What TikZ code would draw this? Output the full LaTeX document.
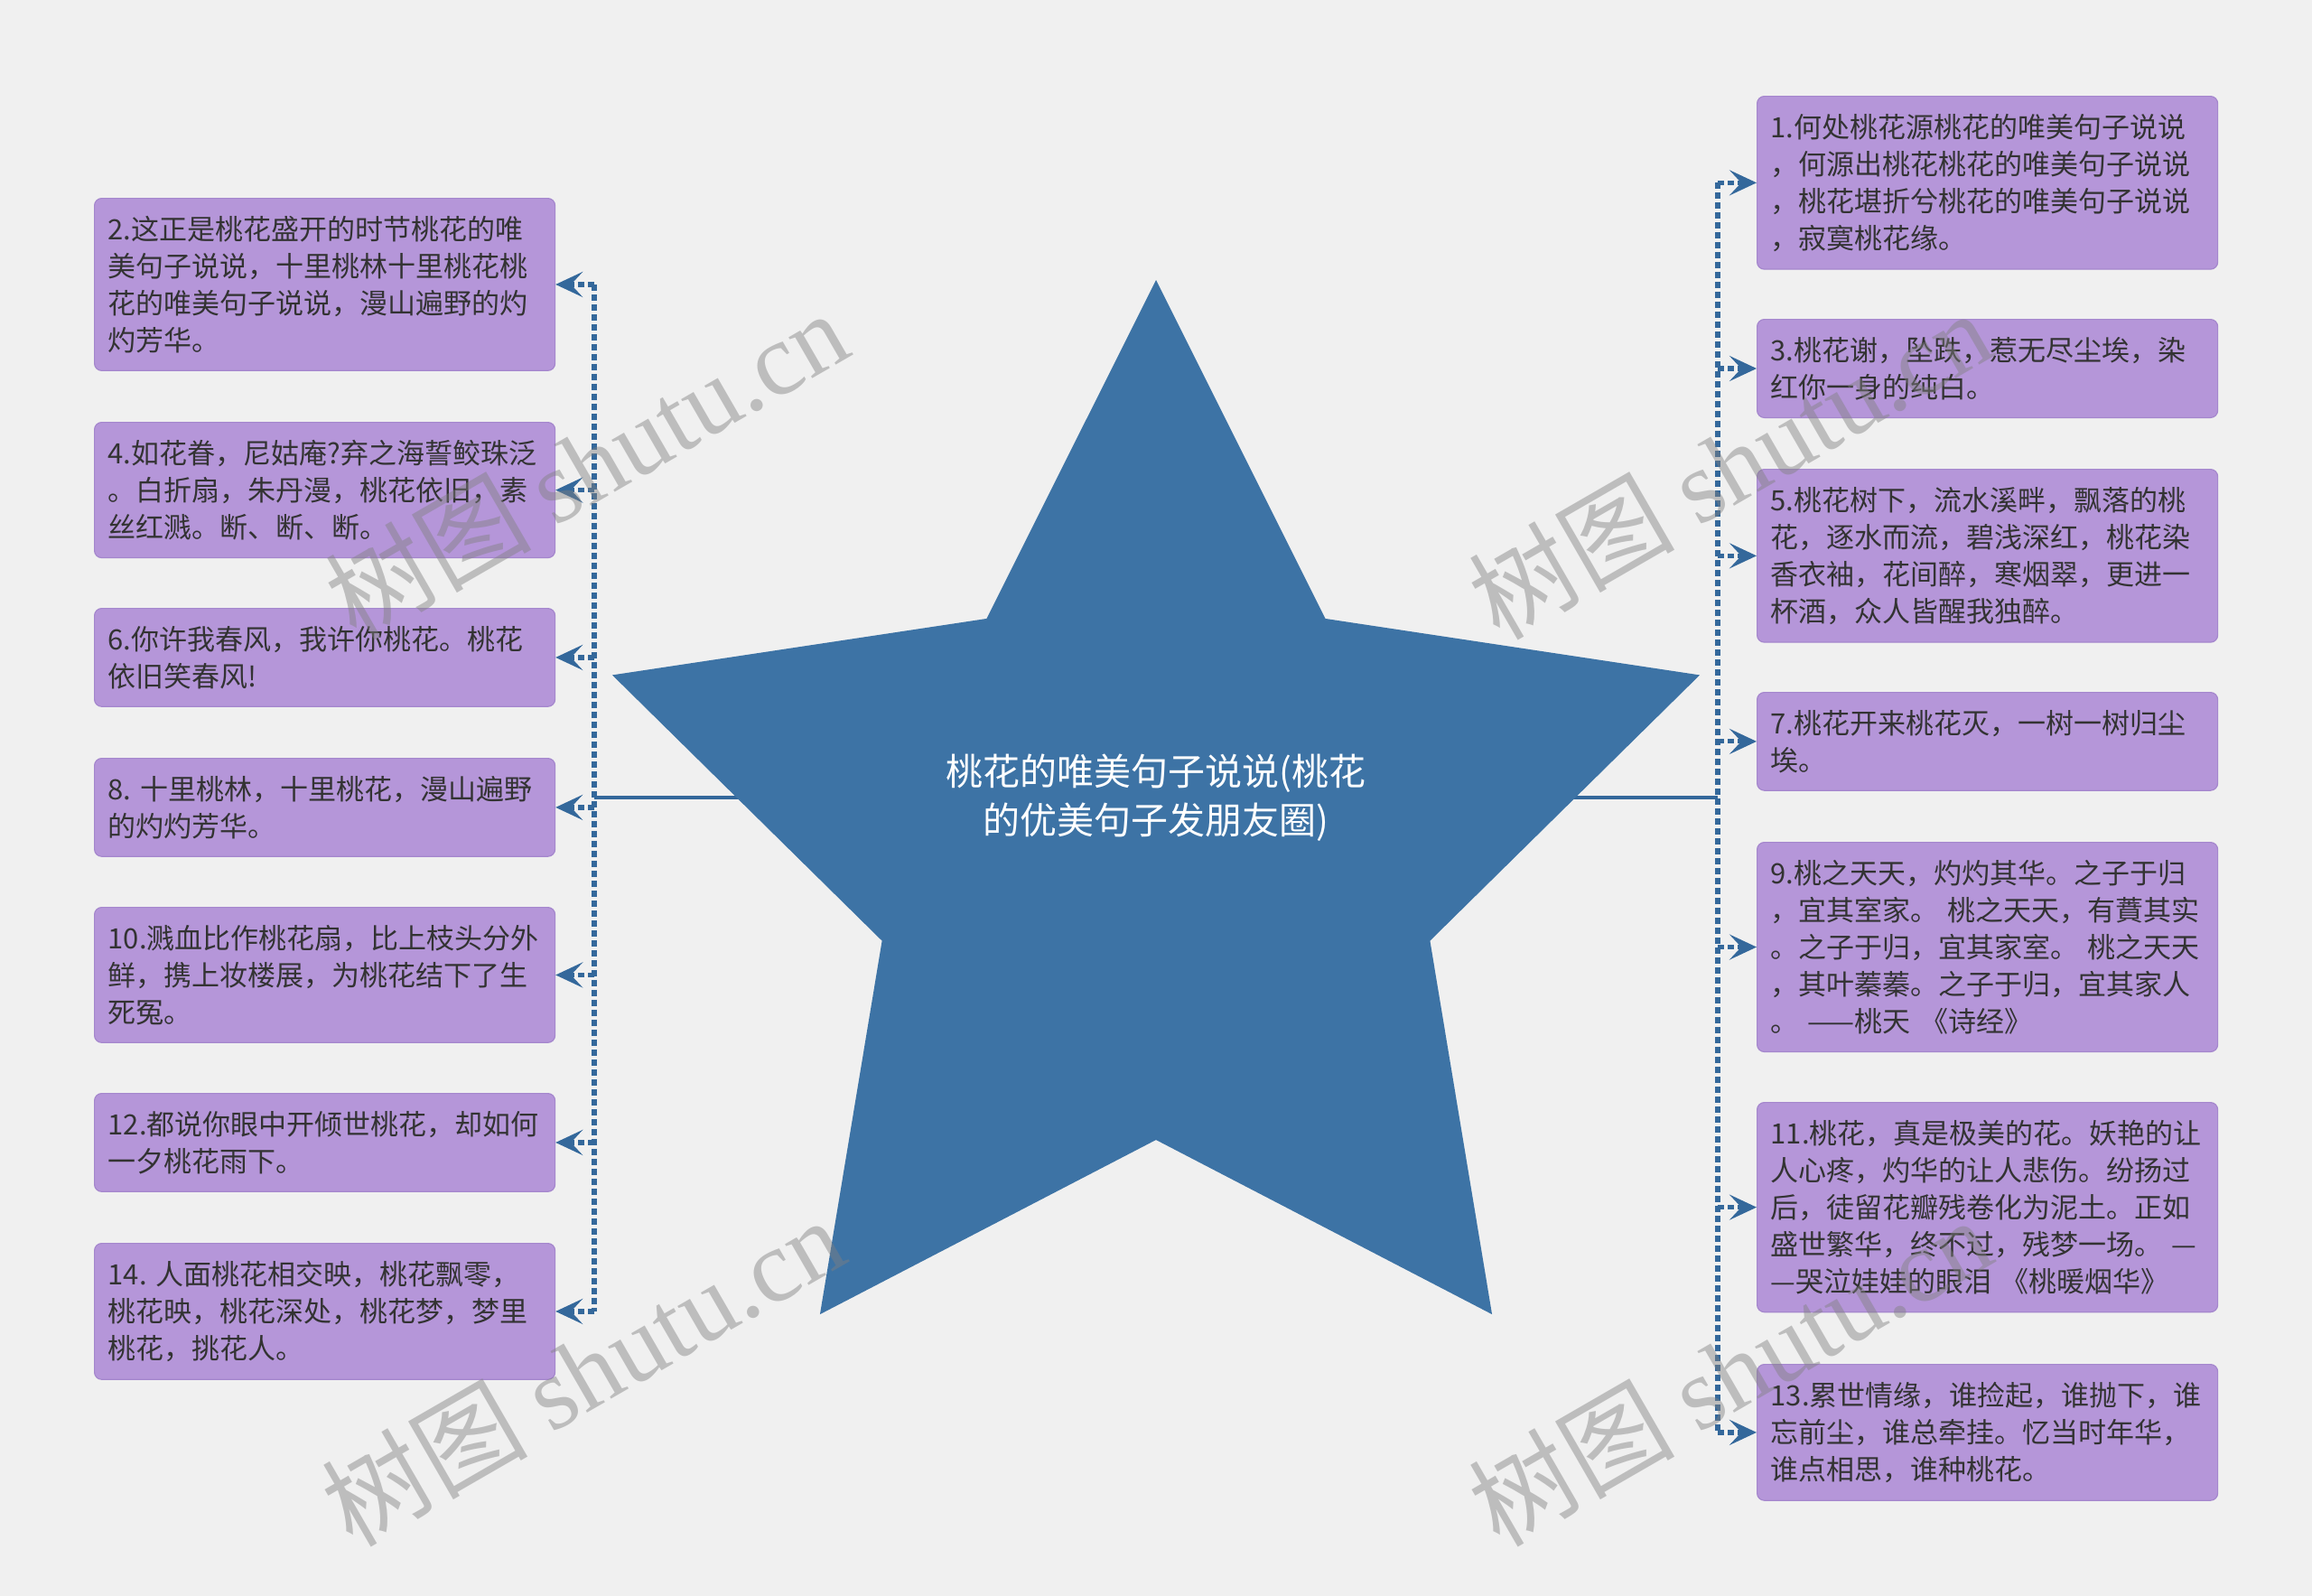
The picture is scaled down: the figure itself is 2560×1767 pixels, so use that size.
\documentclass[tikz,border=0pt]{standalone}
\usepackage{fontspec}
\setmainfont{Noto Sans CJK SC}
\newfontfamily\wmserif{Liberation Serif}
\usetikzlibrary{arrows.meta}

\definecolor{bgcol}{RGB}{240,240,240}
\definecolor{leafcol}{RGB}{181,150,217}
\definecolor{leafline}{RGB}{165,135,205}
\definecolor{inkcol}{RGB}{51,51,51}
\definecolor{hubblue}{RGB}{61,115,165}
\definecolor{wirecol}{RGB}{52,104,155}

\tikzset{
  leaf/.style={draw=leafline, line width=0.6pt, fill=leafcol, rounded corners=4pt,
    anchor=north west, text width=240pt, inner xsep=7.5pt, inner ysep=9.75pt,
    align=left, text=inkcol, font=\fontsize{15.5}{20.5}\selectfont},
  trunk/.style={draw=wirecol, line width=2.6pt, dash pattern=on 3.5pt off 2pt},
  twig/.style={trunk, -{Stealth[length=15pt,width=14pt,inset=6.5pt]}},
  spoke/.style={draw=wirecol, line width=2.2pt},
  wmtext/.style={text=gray, text opacity=0.45, rotate=30, font=\fontsize{57}{57}\selectfont}
}

\begin{document}
\begin{tikzpicture}[x=0.5pt,y=0.5pt,yscale=-1]
\fill[bgcol] (0,0) rectangle (2560,1767);
\useasboundingbox (0,0) rectangle (2560,1767);

% left leaves
\node[leaf] (b2) at (104,219) {2.这正是桃花盛开的时节桃花的唯\\美句子说说，十里桃林十里桃花桃\\花的唯美句子说说，漫山遍野的灼\\灼芳华。};
\node[leaf] (b4) at (104,467) {4.如花眷，尼姑庵?弃之海誓鲛珠泛\\。白折扇，朱丹漫，桃花依旧，素\\丝红溅。断、断、断。};
\node[leaf] (b6) at (104,673) {6.你许我春风，我许你桃花。桃花\\依旧笑春风!};
\node[leaf] (b8) at (104,839) {8.~十里桃林，十里桃花，漫山遍野\\的灼灼芳华。};
\node[leaf] (b10) at (104,1004) {10.溅血比作桃花扇，比上枝头分外\\鲜，携上妆楼展，为桃花结下了生\\死冤。};
\node[leaf] (b12) at (104,1210) {12.都说你眼中开倾世桃花，却如何\\一夕桃花雨下。};
\node[leaf] (b14) at (104,1376) {14.~人面桃花相交映，桃花飘零，\\桃花映，桃花深处，桃花梦，梦里\\桃花，挑花人。};

% right leaves
\node[leaf] (b1) at (1945,106) {1.何处桃花源桃花的唯美句子说说\\，何源出桃花桃花的唯美句子说说\\，桃花堪折兮桃花的唯美句子说说\\，寂寞桃花缘。};
\node[leaf] (b3) at (1945,353) {3.桃花谢，坠跌，惹无尽尘埃，染\\红你一身的纯白。};
\node[leaf] (b5) at (1945,519) {5.桃花树下，流水溪畔，飘落的桃\\花，逐水而流，碧浅深红，桃花染\\香衣袖，花间醉，寒烟翠，更进一\\杯酒，众人皆醒我独醉。};
\node[leaf] (b7) at (1945,766) {7.桃花开来桃花灭，一树一树归尘\\埃。};
\node[leaf] (b9) at (1945,932) {9.桃之天天，灼灼其华。之子于归\\，宜其室家。~桃之天天，有蕡其实\\。之子于归，宜其家室。~桃之天天\\，其叶蓁蓁。之子于归，宜其家人\\。~——桃天~《诗经》};
\node[leaf] (b11) at (1945,1220) {11.桃花，真是极美的花。妖艳的让\\人心疼，灼华的让人悲伤。纷扬过\\后，徒留花瓣残卷化为泥土。正如\\盛世繁华，终不过，残梦一场。~—\\—哭泣娃娃的眼泪~《桃暖烟华》};
\node[leaf] (b13) at (1945,1510) {13.累世情缘，谁捡起，谁抛下，谁\\忘前尘，谁总牵挂。忆当时年华，\\谁点相思，谁种桃花。};

%Straight Lines
\coordinate (lt) at (658,883);
\coordinate (rt) at (1902,883);
\coordinate (hubc) at (1280,883);
\draw[trunk] (lt |- b2.east) -- (lt |- b14.east);
\foreach \i in {2,4,...,14} \draw[twig] (lt |- b\i.east) -- (b\i.east);
\draw[trunk] (rt |- b1.west) -- (rt |- b13.west);
\foreach \i in {1,3,...,13} \draw[twig] (rt |- b\i.west) -- (b\i.west);
\draw[spoke] (lt) -- (hubc);
\draw[spoke] (hubc) -- (rt);

%Shape: Star
\begin{scope}[shift={(1280,943)}]
\fill[hubblue] (-90:633) \foreach \k in {1,...,9} {-- ({-90+36*\k}:{633-314*mod(\k,2)})} -- cycle;
\end{scope}

% Text Node
\node[text=white, align=center, font=\fontsize{20.5}{27}\selectfont] (hub) at (hubc) {桃花的唯美句子说说(桃花\\的优美句子发朋友圈)};

% watermark
\node[wmtext] (wm1) at (649,514) {树图 {\wmserif shutu.cn}};
\node[wmtext] (wm2) at (645,1518) {树图 {\wmserif shutu.cn}};
\node[wmtext] (wm3) at (1915,514) {树图 {\wmserif shutu.cn}};
\node[wmtext] (wm4) at (1915,1518) {树图 {\wmserif shutu.cn}};
\end{tikzpicture}
\end{document}
